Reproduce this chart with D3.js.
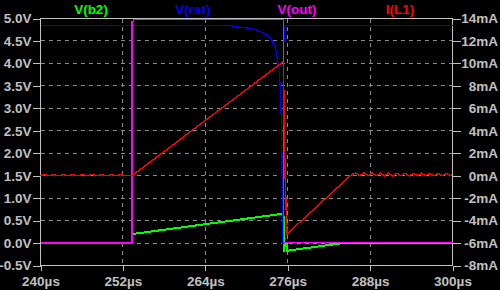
<!DOCTYPE html>
<html>
<head>
<meta charset="utf-8">
<script src="https://cdn.jsdelivr.net/npm/d3@7"></script>
<style>
  html, body { margin: 0; padding: 0; background: #000; }
  svg { display: block; }
</style>
</head>
<body>
<div id="chart"></div>
<script>
// time axis in microseconds
var timeTicks = [240, 252, 264, 276, 288, 300];
var voltTicks = [-0.5, 0, 0.5, 1, 1.5, 2, 2.5, 3, 3.5, 4, 4.5, 5];
var currentTicks = [-8, -6, -4, -2, 0, 2, 4, 6, 8, 10, 12, 14];

var traceNames = ["V(b2)", "V(rst)", "V(out)", "I(L1)"];

// [time us, volts]
var vB2 = [[240, 0], [253.33, 0], [253.34, 0.2], [275.16, 0.65], [275.4, 0.6], [275.49, 0.43],
           [275.5, -0.21], [275.56, 0], [275.93, 0], [275.95, -0.17], [284.1, 0], [300, 0]];

var vRst = [[240, 4.84], [267.9, 4.84], [268, 4.82], [269.5, 4.8], [271, 4.77], [272.4, 4.68],
            [273.5, 4.57], [274.2, 4.37], [274.5, 4.11], [274.76, 3.89], [274.9, 3.5],
            [275.05, 2.83], [275.16, 2.0], [275.26, 0], [275.39, 0], [275.39, 4.5],
            [275.53, 4.5], [275.53, 4.84], [300, 4.84]];

var vOut = [[240, 0], [253.33, 0], [253.33, 4.94], [253.6, 4.94], [253.6, 4.97],
            [275.39, 4.97], [275.42, 0.01], [300, 0.01]];

// [time us, mA]
var iL1 = [[240, 0], [240.5, 0.09], [241.2, 0], [241.9, 0.09], [242.6, 0], [243.3, 0.09],
           [244, 0], [244.7, 0.09], [245.4, 0], [246.1, 0.09], [246.8, 0], [247.5, 0.09],
           [248.2, 0], [248.9, 0.09], [249.6, 0], [250.3, 0.09], [251, 0], [251.7, 0.09],
           [252.4, 0], [253.33, 0], [275.24, 10.1], [275.39, 10.0], [275.5, 4.0],
           [275.64, -0.3], [275.9, -5.2], [285.3, 0.1], [285.9, 0.25], [286.5, 0.0],
           [287.1, 0.25], [287.7, 0.0], [288.3, 0.25], [288.9, 0.0], [289.5, 0.22],
           [290.1, -0.02], [290.7, 0.22], [291.3, -0.02], [291.9, 0.22], [292.5, 0.0],
           [293.1, 0.22], [293.7, -0.02], [294.3, 0.2], [294.9, 0.0], [295.5, 0.22],
           [296.1, 0.0], [296.7, 0.2], [297.3, 0.0], [297.9, 0.2], [298.5, 0.0],
           [299.1, 0.2], [299.7, 0.0], [300, 0.1]];

var WIDTH = 500, HEIGHT = 290;
var LEFT = 40.5, RIGHT = 452.5, TOP = 18.5, BOTTOM = 265.5;
var AXIS_COLOR = "#c0c0c0";
var GRID_COLOR = "#8a8a8a";
var FONT = "bold 13.5px 'Liberation Sans', Arial, sans-serif";

var svg = d3.select("#chart").append("svg")
            .attr("width", WIDTH)
            .attr("height", HEIGHT)
            .style("background", "#000");

var x = d3.scaleLinear().domain([240, 300]).range([LEFT, RIGHT]);
var yV = d3.scaleLinear().domain([-0.5, 5]).range([BOTTOM, TOP]);
var yI = d3.scaleLinear().domain([-8, 14]).range([BOTTOM, TOP]);

// dashed grid
var grid = svg.append("g")
              .attr("stroke", GRID_COLOR)
              .attr("stroke-dasharray", "4,4")
              .attr("shape-rendering", "crispEdges");

grid.selectAll("line.v")
    .data(timeTicks.slice(1, -1))
    .enter().append("line")
    .attr("x1", function (d) { return x(d); })
    .attr("x2", function (d) { return x(d); })
    .attr("y1", TOP)
    .attr("y2", BOTTOM);

grid.selectAll("line.h")
    .data(voltTicks.slice(1, -1))
    .enter().append("line")
    .attr("x1", LEFT)
    .attr("x2", RIGHT)
    .attr("y1", function (d) { return yV(d); })
    .attr("y2", function (d) { return yV(d); });

// axes
function styleAxis(g)
{
  g.select(".domain").remove();
  g.selectAll("line").attr("stroke", AXIS_COLOR).attr("shape-rendering", "crispEdges");
  g.selectAll("text").attr("fill", AXIS_COLOR).style("font", FONT);
}

svg.append("g")
   .attr("transform", "translate(" + LEFT + ",0)")
   .call(d3.axisLeft(yV).tickValues(voltTicks).tickSize(8).tickPadding(1)
          .tickFormat(function (d) { return d.toFixed(1) + "V"; }))
   .call(styleAxis);

var right = svg.append("g")
   .attr("transform", "translate(" + RIGHT + ",0)")
   .call(d3.axisRight(yI).tickValues(currentTicks).tickSize(8)
          .tickFormat(function (d) { return d + "mA"; }))
   .call(styleAxis);
right.selectAll("text").attr("text-anchor", "end").attr("x", 498 - RIGHT);

svg.append("g")
   .attr("transform", "translate(0," + BOTTOM + ")")
   .call(d3.axisBottom(x).tickValues(timeTicks).tickSize(5).tickPadding(6)
          .tickFormat(function (d) { return d + "\u00b5s"; }))
   .call(styleAxis);

// frame
svg.append("rect")
   .attr("x", LEFT).attr("y", TOP)
   .attr("width", RIGHT - LEFT).attr("height", BOTTOM - TOP)
   .attr("fill", "none")
   .attr("stroke", AXIS_COLOR)
   .attr("shape-rendering", "crispEdges");

// traces
var lineV = d3.line()
              .x(function (d) { return x(d[0]); })
              .y(function (d) { return yV(d[1]); });
var lineI = d3.line()
              .x(function (d) { return x(d[0]); })
              .y(function (d) { return yI(d[1]); });

var traces = [
  { name: traceNames[0], data: vB2, line: lineV, color: "#00ff00", width: 2, labelX: 91 },
  { name: traceNames[1], data: vRst, line: lineV, color: "#0000ff", width: 1.2, labelX: 193 },
  { name: traceNames[2], data: vOut, line: lineV, color: "#ff00ff", width: 1.2, labelX: 297 },
  { name: traceNames[3], data: iL1, line: lineI, color: "#ff0000", width: 1.4, labelX: 400 }
];

traces.forEach(function (t)
{
  svg.append("path")
     .datum(t.data)
     .attr("d", t.line)
     .attr("fill", "none")
     .attr("stroke", t.color)
     .attr("stroke-width", t.width)
     .attr("shape-rendering", "crispEdges");

  svg.append("text")
     .attr("x", t.labelX)
     .attr("y", 14)
     .attr("text-anchor", "middle")
     .attr("fill", t.color)
     .style("font", FONT)
     .text(t.name);
});
</script>
</body>
</html>
